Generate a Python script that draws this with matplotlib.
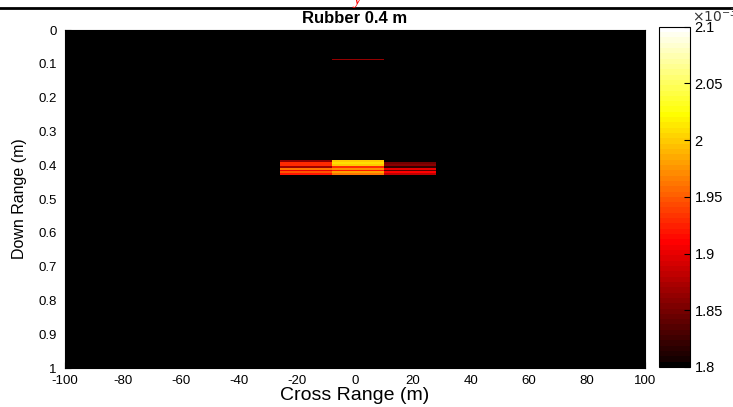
import numpy as np
import matplotlib
matplotlib.use("Agg")
import matplotlib.pyplot as plt
from matplotlib.colors import ListedColormap
from matplotlib.lines import Line2D

plt.rcParams['font.family'] = ['Liberation Sans', 'DejaVu Sans']
plt.rcParams['axes.unicode_minus'] = False

# cross range block edges (m)
x_edges = [-100, -26, -8, 10, 28, 100]
# down range rows of the target return (m)
row_edges = [0.385, 0.3905, 0.396, 0.4015, 0.407, 0.4125, 0.418, 0.4235, 0.429]
# pixel values (x10^-3) per row, top to bottom
left_block = [1.86, 1.93, 1.93, 1.87, 1.96, 1.90, 1.95, 1.92]
mid_block = [2.00, 2.01, 2.00, 1.93, 1.97, 1.92, 1.98, 1.96]
right_block = [1.80, 1.85, 1.86, 1.82, 1.90, 1.84, 1.91, 1.88]
# faint return near 0.09 m
faint_edges = [0.084, 0.0875]
faint_value = 1.865
background = 1.8

y_edges = [0.0] + faint_edges + row_edges + [1.0]
nrows = len(y_edges) - 1
ncols = len(x_edges) - 1
img = np.full((nrows, ncols), background)
img[1, 2] = faint_value
for i in range(len(left_block)):
    img[3 + i, 1] = left_block[i]
    img[3 + i, 2] = mid_block[i]
    img[3 + i, 3] = right_block[i]

# matlab style hot map, starting at pure black
hot = plt.get_cmap('hot')(np.linspace(0, 1, 64))
hot[0] = [0, 0, 0, 1]
cmap = ListedColormap(hot)

fig = plt.figure(figsize=(7.33, 4.07), dpi=100)
ax = fig.add_axes([0.0887, 0.0958, 0.791, 0.830])
mesh = ax.pcolormesh(x_edges, y_edges, img, cmap=cmap, vmin=1.8, vmax=2.1)
ax.set_xlim(-100, 100)
ax.set_ylim(1, 0)
ax.set_xticks(np.arange(-100, 101, 20))
ax.set_yticks(np.arange(0, 1.01, 0.1))
ax.set_yticklabels(['0', '0.1', '0.2', '0.3', '0.4', '0.5', '0.6', '0.7', '0.8', '0.9', '1'])
ax.tick_params(direction='in', length=4, width=0.8)
ax.tick_params(axis='x', labelsize=9.5, pad=5)
ax.tick_params(axis='y', labelsize=9.5, pad=6)
ax.set_xlabel('Cross Range (m)', fontsize=14, labelpad=0)
ax.set_ylabel('Down Range (m)', fontsize=11.5, labelpad=8)
ax.set_title('Rubber 0.4 m', fontsize=12, fontweight='bold', pad=5.5)

cax = fig.add_axes([0.899, 0.0983, 0.042, 0.836])
cb = fig.colorbar(mesh, cax=cax)
cb.set_ticks([1.8, 1.85, 1.9, 1.95, 2.0, 2.05, 2.1])
cb.set_ticklabels(['1.8', '1.85', '1.9', '1.95', '2', '2.05', '2.1'])
cb.ax.tick_params(direction='in', length=4, labelsize=10.5, width=0.8)
cb.outline.set_linewidth(0.8)
fig.text(0.944, 0.962, r'$\times10^{-3}$', fontsize=10, ha='left', va='center', color='#333333')

# header rule and remnant text from the page above
fig.add_artist(Line2D([0, 1], [0.981, 0.981], color='black', linewidth=2))
fig.text(0.487, 1.0, 'y', color='red', fontsize=12, style='italic', ha='center', va='center',
         fontfamily='Liberation Serif')

fig.savefig('out.png', dpi=100)
